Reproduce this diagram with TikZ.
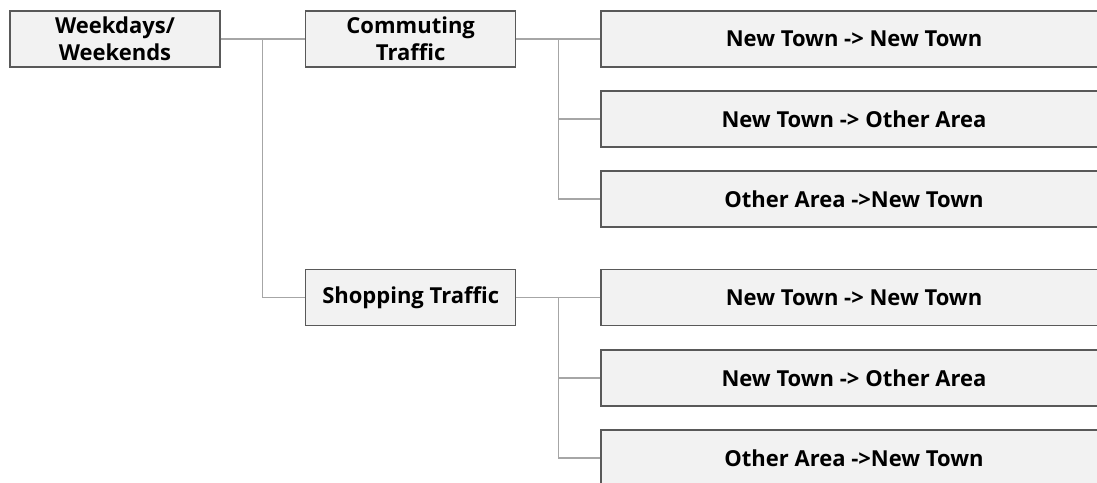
\documentclass[tikz,border=0pt]{standalone}
\usepackage{fontspec}
\setmainfont{Open Sans}
\usetikzlibrary{calc}
\definecolor{boxfill}{HTML}{F2F2F2}
\definecolor{boxline}{HTML}{595959}
\definecolor{conn}{HTML}{A6A6A6}
\tikzset{
  box/.style={draw=boxline, fill=boxfill, line width=1.2pt, rectangle, align=center,
    font=\bfseries\fontsize{22}{27}\selectfont, inner sep=0pt, text=black},
  lbox/.style={box, minimum width=210pt, minimum height=56pt},
  rbox/.style={box, minimum width=506pt, minimum height=56pt},
  link/.style={draw=conn, line width=1.2pt}
}
\begin{document}
\begin{tikzpicture}[x=1pt,y=-1pt]
\useasboundingbox (0,0) rectangle (1097,482);
\begin{scope}
\clip (0,0) rectangle (1097,482);
\node[lbox] (wk) at (115,39) {Weekdays/\\Weekends};
\node[lbox] (com) at (410.7,39) {Commuting\\Traffic};
\node[lbox] (shop) at (410.7,297.5) {Shopping Traffic};
\node[rbox] (r1) at (854,39) {New Town -> New Town};
\node[rbox] (r2) at (854,119) {New Town -> Other Area};
\node[rbox] (r3) at (854,199) {Other Area ->New Town};
\node[rbox] (r4) at (854,297.5) {New Town -> New Town};
\node[rbox] (r5) at (854,378) {New Town -> Other Area};
\node[rbox] (r6) at (854,458) {Other Area ->New Town};
\coordinate (t0) at ($(wk.east)!0.5!(com.west)$);
\coordinate (t1) at ($(com.east)!0.5!(r1.west)$);
\coordinate (t2) at ($(shop.east)!0.5!(r4.west)$);
\draw[link] (wk.east) -- (com.west);
\draw[link] (t0) |- (shop.west);
\draw[link] (com.east) -- (r1.west);
\draw[link] (t1) |- (r2.west);
\draw[link] (t1) |- (r3.west);
\draw[link] (shop.east) -- (r4.west);
\draw[link] (t2) |- (r5.west);
\draw[link] (t2) |- (r6.west);
\end{scope}
\end{tikzpicture}
\end{document}
